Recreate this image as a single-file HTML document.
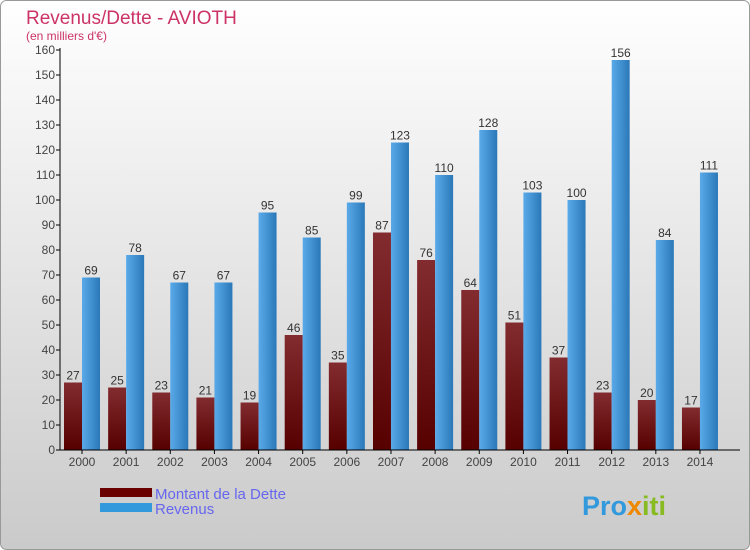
<!DOCTYPE html>
<html><head><meta charset="utf-8"><style>
body{margin:0}
#c{width:750px;height:550px;position:relative;overflow:hidden}
svg text{font-family:"Liberation Sans",sans-serif}
</style></head><body>
<div id="c">
<svg id="s" width="750" height="550" xmlns="http://www.w3.org/2000/svg">
<defs>
<linearGradient id="bg" x1="0" y1="0" x2="0" y2="1"><stop offset="0" stop-color="#ffffff"/><stop offset="1" stop-color="#cacaca"/></linearGradient>
<linearGradient id="gd" x1="0" y1="0" x2="0" y2="1"><stop offset="0" stop-color="#832c30"/><stop offset="1" stop-color="#560000"/></linearGradient>
<linearGradient id="gr" x1="0" y1="0" x2="1" y2="0"><stop offset="0" stop-color="#5aaaea"/><stop offset="1" stop-color="#2a78b8"/></linearGradient>
</defs>
<rect x="0.5" y="0.5" width="749" height="549" rx="6" fill="url(#bg)" stroke="#999"/>
<text x="26" y="24" font-size="19" fill="#cc3366">Revenus/Dette - AVIOTH</text>
<text x="26" y="40" font-size="12" fill="#cc3366">(en milliers d'€)</text>
<g id="plot"></g>
<rect x="100" y="488" width="52" height="9" fill="#6a0000"/>
<rect x="100" y="503" width="52" height="9" fill="#3399dd"/>
<text x="155" y="499" font-size="15" fill="#6666ee">Montant de la Dette</text>
<text x="155" y="514" font-size="15" fill="#6666ee">Revenus</text>
<text x="582" y="515" font-size="27" font-weight="bold" fill="#3399dd">Pro<tspan fill="#ee8800">x</tspan><tspan fill="#88bb22">iti</tspan></text>
</svg></div>
<script>
const years=["2000","2001","2002","2003","2004","2005","2006","2007","2008","2009","2010","2011","2012","2013","2014"];
const dette=[27,25,23,21,19,46,35,87,76,64,51,37,23,20,17];
const revenus=[69,78,67,67,95,85,99,123,110,128,103,100,156,84,111];
const yTicks=[0,10,20,30,40,50,60,70,80,90,100,110,120,130,140,150,160];
const NS="http://www.w3.org/2000/svg";
const g=document.getElementById('plot');
const y=v=>450-v*2.5;
const xc=i=>82+i*44.14;
function mk(t,a){const e=document.createElementNS(NS,t);for(const k in a)e.setAttribute(k,a[k]);g.appendChild(e);return e;}
yTicks.forEach(v=>{
 const l=mk('line',{x1:56,x2:60,y1:y(v),y2:y(v),stroke:'#000'});
 
 
 const t=mk('text',{x:55,y:y(v)+4,'font-size':12,'text-anchor':'end',fill:'#444'});t.textContent=v;
 
 
});
years.forEach((yr,i)=>{
 const c=xc(i);
 const b1=mk('rect',{x:c-18,y:y(dette[i]),width:18,height:dette[i]*2.5,fill:'url(#gd)'});
 
 
 const b2=mk('rect',{x:c,y:y(revenus[i]),width:18,height:revenus[i]*2.5,fill:'url(#gr)'});
 
 
 const t1=mk('text',{x:c-9,y:y(dette[i])-3,'font-size':12,'text-anchor':'middle',fill:'#333'});t1.textContent=dette[i];
 
 
 const t2=mk('text',{x:c+9,y:y(revenus[i])-3,'font-size':12,'text-anchor':'middle',fill:'#333'});t2.textContent=revenus[i];
 
 
 const tk=mk('line',{x1:c,x2:c,y1:450,y2:454,stroke:'#000'});
 
 
 const xl=mk('text',{x:c,y:466,'font-size':12,'text-anchor':'middle',fill:'#444'});xl.textContent=yr;
 
 
});
const ax=mk('line',{x1:60,x2:60,y1:48,y2:450,stroke:'#000'});


const bx=mk('line',{x1:60,x2:740,y1:450,y2:450,stroke:'#000'});


</script>
</body></html>
